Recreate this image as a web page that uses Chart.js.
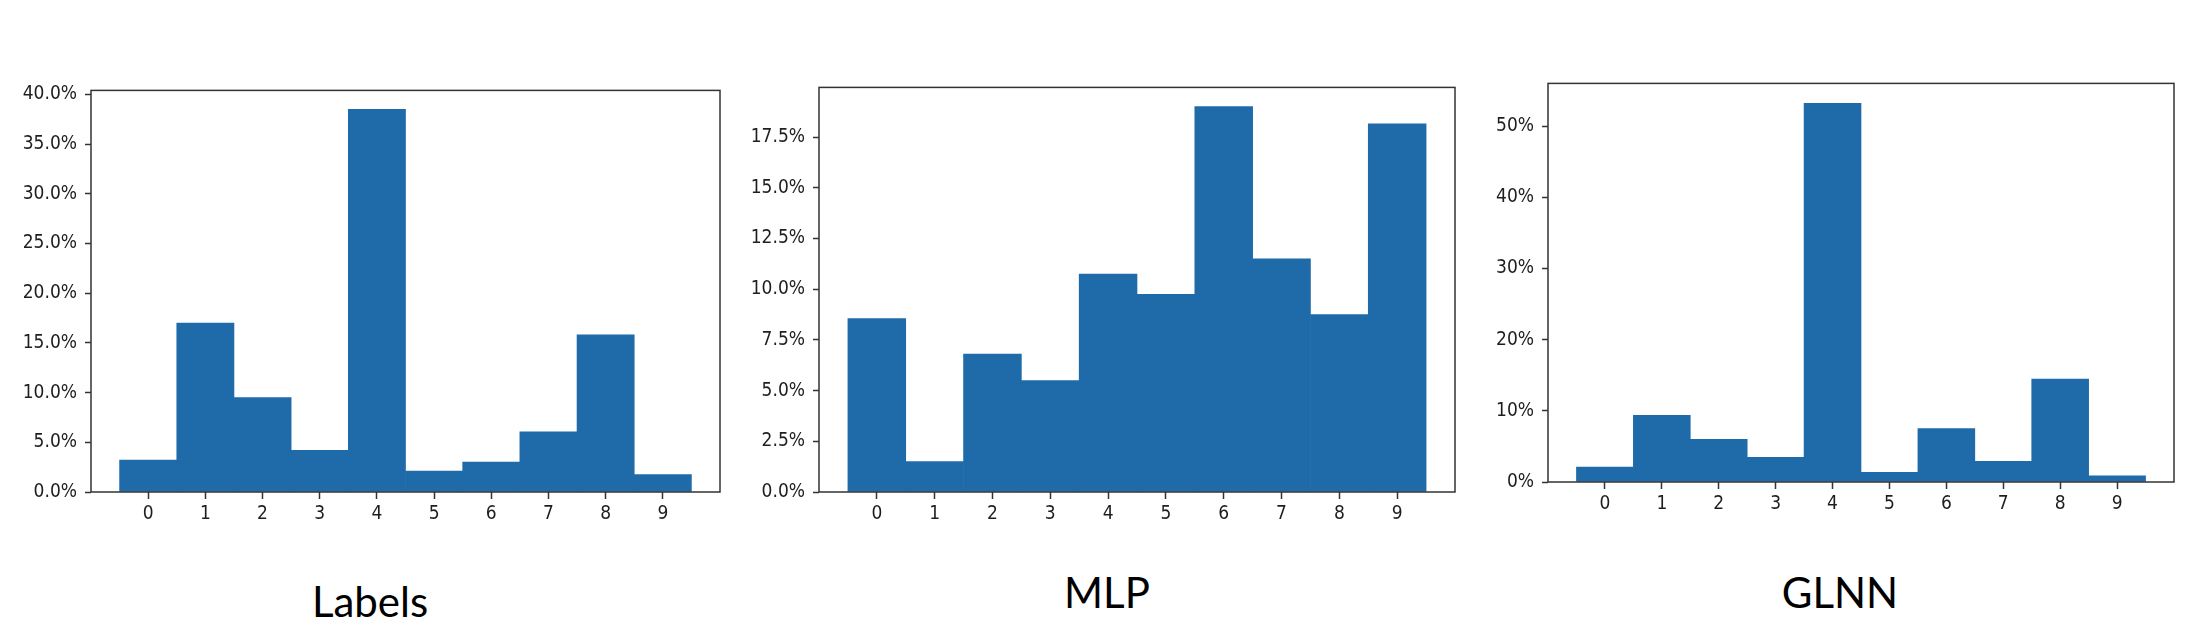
<!DOCTYPE html>
<html>
<head>
<meta charset="utf-8">
<script src="https://cdn.jsdelivr.net/npm/chart.js@4.4.1/dist/chart.umd.min.js"></script>
<style>
  body { margin:0; background:#fff; width:2204px; height:636px; position:relative; overflow:hidden; }
  canvas { position:absolute; }
  .ttl { position:absolute; font-family: Lato, "Open Sans", sans-serif; font-size:42px; line-height:42px; color:#000; transform:translateX(-50%); white-space:nowrap; }
</style>
</head>
<body>
<canvas id="cLabels"></canvas>
<canvas id="cMLP"></canvas>
<canvas id="cGLNN"></canvas>
<div class="ttl" style="left:370px;top:580px">Labels</div>
<div class="ttl" style="left:1107px;top:571px">MLP</div>
<div class="ttl" style="left:1840px;top:571px">GLNN</div>
<script>
// ---------------- data (percent of nodes per class) ----------------
const classes   = [0, 1, 2, 3, 4, 5, 6, 7, 8, 9];
const labelsPct = [3.2, 17.0, 9.5, 4.2, 38.5, 2.1, 3.0, 6.05, 15.8, 1.75];
const mlpPct    = [8.55, 1.5, 6.8, 5.5, 10.75, 9.75, 19.0, 11.5, 8.75, 18.15];
const glnnPct   = [2.1, 9.35, 6.0, 3.45, 53.2, 1.35, 7.5, 2.9, 14.45, 0.85];

// y axis: top of axis, tick step, decimals of the tick labels
const yMax      = [40.4, 19.95, 56];
const yStep     = [5, 2.5, 10];
const yDecimals = [1, 1, 0];

Chart.defaults.font.family = '"DejaVu Sans Condensed", "DejaVu Sans", sans-serif';
Chart.defaults.font.size = 19;
Chart.defaults.color = '#1e1e1e';

// box round the plot area, like the matplotlib spines
const frame = {
  id: 'frame',
  afterDatasetsDraw(chart) {
    const {ctx, chartArea: a} = chart;
    ctx.save();
    ctx.strokeStyle = '#333';
    ctx.lineWidth = 1.5;
    ctx.strokeRect(a.left, a.top, a.right - a.left, a.bottom - a.top);
    ctx.restore();
  }
};

function histo(id, values, box, max, step, dec){
  const cv = document.getElementById(id);
  const padL = 100, padT = 12, padR = 12, padB = 45;
  cv.width = box.R - box.L + padL + padR;
  cv.height = box.B - box.T + padT + padB;
  cv.style.left = (box.L - padL) + 'px';
  cv.style.top = (box.T - padT) + 'px';

  new Chart(cv, {
    type: 'bar',
    data: {
      datasets: [{
        data: classes.map((c, i) => ({x: c, y: values[i]})),
        backgroundColor: '#1f6baa',
        borderWidth: 0,
        barPercentage: 1,
        categoryPercentage: 1
      }]
    },
    options: {
      responsive: false,
      animation: false,
      layout: { padding: { top: padT, right: padR, left: 0, bottom: 0 } },
      plugins: { legend: { display: false }, tooltip: { enabled: false } },
      scales: {
        x: {
          type: 'linear', min: -1, max: 10, offset: false,
          grid: { offset: false, drawOnChartArea: false, tickLength: 7, tickWidth: 1.5, tickColor: '#333' },
          border: { display: false },
          ticks: { stepSize: 1, autoSkip: false, maxRotation: 0, padding: 4 },
          afterBuildTicks: s => { s.ticks = s.ticks.filter(t => t.value >= 0 && t.value <= 9) },
          afterFit: s => { s.height = padB }
        },
        y: {
          min: 0, max: max,
          grid: { drawOnChartArea: false, tickLength: 6, tickWidth: 1.5, tickColor: '#333' },
          border: { display: false },
          ticks: { stepSize: step, includeBounds: false, padding: 8,
                   callback: v => v.toFixed(dec) + '%' },
          afterFit: s => { s.width = padL }
        }
      }
    },
    plugins: [frame]
  });
}

histo('cLabels', labelsPct, {L: 91,   R: 720,  T: 83, B: 492}, yMax[0], yStep[0], yDecimals[0]);
histo('cMLP',    mlpPct,    {L: 819,  R: 1455, T: 80, B: 492}, yMax[1], yStep[1], yDecimals[1]);
histo('cGLNN',   glnnPct,   {L: 1548, R: 2174, T: 76, B: 482}, yMax[2], yStep[2], yDecimals[2]);
</script>
</body>
</html>
